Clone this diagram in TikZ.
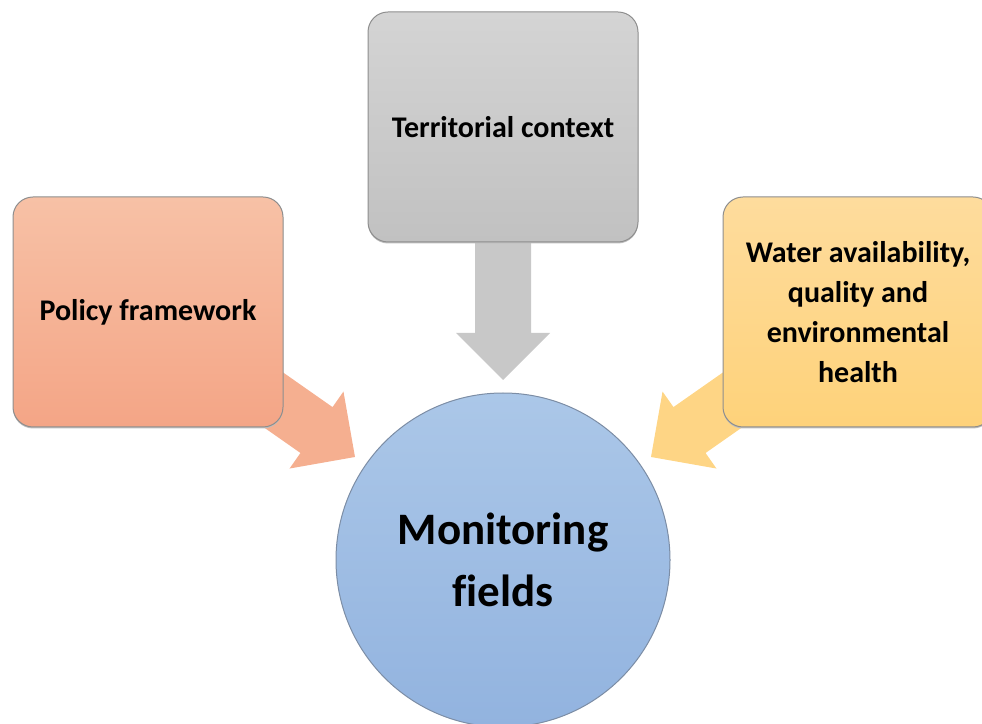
\documentclass[tikz,border=0pt]{standalone}
\usepackage{fontspec}
\setmainfont{Carlito}[Ligatures=NoCommon]
\begin{document}
\begin{tikzpicture}[x=1pt,y=1pt,
  box/.style={draw=boxline, line width=1pt, rounded corners=20pt,
    minimum width=270pt, minimum height=230pt, inner sep=0pt,
    align=center,
    font=\fontsize{30}{40}\selectfont\bfseries},
  hub/.style={circle, draw=hubline, line width=1pt, minimum size=334pt,
    inner sep=0pt, align=center, top color=hubtop, bottom color=hubbot,
    font=\fontsize{45}{62}\selectfont\bfseries}
]
\definecolor{boxline}{HTML}{8E8E8E}
\definecolor{hubline}{HTML}{7C8DA5}
\definecolor{hubtop}{HTML}{ABC7E8}
\definecolor{hubbot}{HTML}{92B3DF}
\definecolor{ortop}{HTML}{F7C1A6}
\definecolor{orbot}{HTML}{F4A586}
\definecolor{grtop}{HTML}{D4D4D4}
\definecolor{grbot}{HTML}{C1C1C1}
\definecolor{yetop}{HTML}{FEDC9D}
\definecolor{yebot}{HTML}{FED27A}
\definecolor{orarrow}{HTML}{F5AF90}
\definecolor{grarrow}{HTML}{C8C8C8}
\definecolor{yearrow}{HTML}{FED585}

\useasboundingbox (0,0) rectangle (982,723);
\clip (0,0) rectangle (982,723);

% anchor points for the arrow tips
\coordinate (tipG) at (503,343);
\coordinate (tipO) at (355,266);
\coordinate (tipY) at (651,266);

% block arrows, drawn first so the boxes sit over their tails
\begin{scope}[shift={(tipG)}, rotate=-90]
  \fill[grarrow] (0,0) -- (-47,47) -- (-47,28) -- (-170,28) -- (-170,-28)
    -- (-47,-28) -- (-47,-47) -- cycle;
\end{scope}
\begin{scope}[shift={(tipO)}, rotate=-35]
  \fill[orarrow] (0,0) -- (-47,47) -- (-47,28) -- (-200,28) -- (-200,-28)
    -- (-47,-28) -- (-47,-47) -- cycle;
\end{scope}
\begin{scope}[shift={(tipY)}, rotate=-145]
  \fill[yearrow] (0,0) -- (-47,47) -- (-47,28) -- (-200,28) -- (-200,-28)
    -- (-47,-28) -- (-47,-47) -- cycle;
\end{scope}

% soft shadows under the boxes
\fill[black!25, rounded corners=20pt] (368,479.5) rectangle (638,709.5);
\fill[black!25, rounded corners=20pt] (13,294.5) rectangle (283,524.5);
\fill[black!25, rounded corners=20pt] (723,294.5) rectangle (993,524.5);

% boxes
\node[box, top color=grtop, bottom color=grbot] (terr) at (503,596) {Territorial context};
\node[box, top color=ortop, bottom color=orbot] (policy) at (148,411) {Policy framework};
\node[box, top color=yetop, bottom color=yebot] (water) at (858,411)
  {Water availability,\\ quality and\\ environmental\\ health};

% central circle
\node[hub] (mon) at (503,163) {Monitoring\\ fields};
\end{tikzpicture}
\end{document}
